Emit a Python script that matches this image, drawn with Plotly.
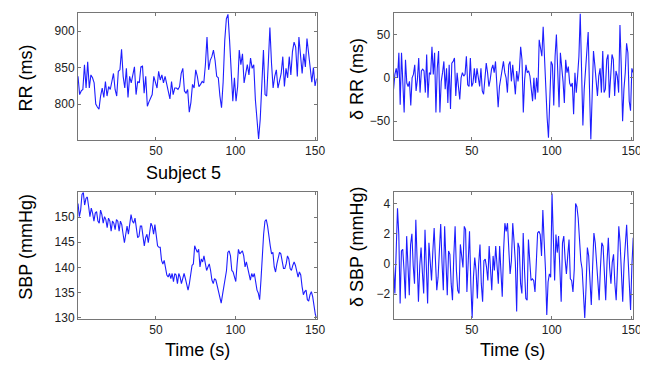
import numpy as np
import plotly.graph_objects as go

# ---------------- data ----------------
rr_ms = [838, 813, 818, 820, 854, 822, 858, 822, 840, 836, 829, 800, 796, 793, 811,
         822, 809, 831, 811, 824, 820, 833, 842, 820, 811, 845, 847, 875, 838, 822,
         849, 809, 838, 829, 838, 851, 813, 831, 829, 851, 852, 815, 838, 797, 803,
         809, 813, 838, 829, 822, 845, 833, 840, 829, 838, 829, 820, 807, 831, 813,
         822, 822, 820, 824, 842, 849, 818, 815, 820, 789, 802, 827,
         822, 847, 838, 824, 827, 831, 829, 854, 892, 847, 860, 865, 874, 860, 838,
         836, 811, 795, 830, 887, 917, 923, 887, 842, 804, 836, 804, 824, 874, 854,
         869, 829, 842, 854, 840, 863, 849, 854, 806, 784, 752, 779, 833, 874, 813,
         811, 856, 905, 856, 822, 838, 847, 822, 833, 842, 865, 824, 849, 836, 865,
         840, 872, 885, 878, 838, 892, 865, 842, 869, 851, 890, 870, 845, 830, 850,
         825, 835]

drr_ms = [-13, 4, 11, 0, 29, -31, 29, -2, -40, 21, -6, -10, -4, -32, 0, 4, 15, -15,
          -2, 23, -17, 8, 10, 8, -17, 27, -23, 6, 4, 36, 4, 29, -40, 11, 31, -40, -4,
          6, 19, -13, 11, -29, 15, -36, 17, 19, 23, -21, 6, -10, -25, 0, 6, 2, 4, 25,
          -8, -10, 23, -10, -6, 11, -6, 11, 0, -10, 11, -15, -19, 6, 17, 6, -10, -2,
          10, 15, 6, 19, -6, -34, -10, 0, 13, 19, 6, 0, -17, 15, 19, -4,
          15, 0, -19, 8, -4, 8, 36, 21, -40, -2, 15, 6, 8, 2, -17, -27, 0, -25, 0,
          -17, 44, 36, 25, 59, 21, -13, -46, -69, -17, 19, 15, -32, 25, 50, 8, -34,
          29, 13, -4, -29, 21, 6, 13, -6, -10, -6, -42, 6, -17, 2, 25, 74, 21, -55,
          -13, 13, 34, 53, -13, -71, -21, 31, 15, -4, -21, 2, 11, -17, 31, -17, -13,
          21, 27, -23, 2, 27, 21, -21, 8, 2, -17, 61, 13, -50, -13, 6, 40, 29, -27,
          -38, 11, 6]

sbp_mmhg = [152.7, 150.1, 151.4, 154.5, 154.9, 152.4, 153.7, 154.0, 152.1, 150.1,
            151.8, 150.8, 149.2, 150.8, 151.1, 149.2, 148.8, 151.4, 150.5, 148.8,
            150.1, 149.5, 147.9, 149.8, 149.2, 147.2, 149.2, 148.8, 147.5, 149.5,
            149.2, 147.2, 149.2, 148.5, 146.6, 144.9, 146.6, 148.2, 146.6, 148.8,
            150.5, 149.2, 148.8, 149.8, 147.9, 145.9, 146.2, 148.2, 148.2, 145.9,
            144.3, 145.9, 146.6, 144.9, 147.2, 148.8, 148.2, 146.6, 148.5, 146.2,
            144.3, 144.0, 144.0, 141.4, 140.7, 141.4, 139.4, 138.5, 138.1, 138.8,
            137.8, 138.8, 137.2, 138.8, 138.5, 136.8, 138.8, 138.1, 136.8, 138.1,
            138.8, 137.8, 136.2, 135.5, 136.8, 139.1, 140.4, 140.7, 144.3,
            143.6, 143.0, 143.6, 140.1, 141.7, 141.1, 142.3, 141.1, 139.4, 140.1,
            140.7, 139.4, 137.5, 136.8, 137.8, 137.5, 136.2, 134.9, 133.6, 132.9,
            134.6, 136.2, 137.5, 139.4, 143.0, 143.3, 142.3, 139.4, 139.1, 138.1,
            137.2, 140.7, 143.6, 142.7, 143.0, 143.3, 142.3, 140.1, 141.1, 139.8,
            138.5, 137.5, 138.8, 138.1, 138.8, 136.8, 135.5, 134.9, 133.6, 137.5,
            143.3, 146.6, 149.2, 149.5, 148.2, 145.9, 144.3, 142.7, 143.0, 140.1,
            139.1, 140.7, 142.0, 143.0, 142.7, 140.7, 139.8, 139.8, 140.7, 142.3,
            141.7, 139.8, 139.4, 140.4, 141.1, 140.4, 138.8, 138.1, 139.1, 138.5,
            136.2, 134.6, 135.2, 135.5, 133.6, 133.3, 134.6, 135.2, 134.2, 132.3,
            130.7, 130.0]

dsbp_mmhg = [-0.22, -1.95, 0.87, 3.69, 1.95, -2.61, 0.87, 0.98, -0.43, -2.28, 1.85,
             0.33, -2.06, 1.30, 2.00, -0.11, -1.30, 2.93, -0.22, -2.50, -0.11, 1.09,
             -0.54, -1.95, 2.28, 0.33, -2.61, 1.41, 0.11, -1.09, 0.87, 2.39, 0.22,
             -1.74, -0.87, 1.41, 2.65, 0.11, -1.74, 2.50, 0.22, -2.06, 0.87, 0.65,
             -1.30, -2.39, 0.54, 2.50, -0.43, -1.74, -1.95, 1.30, 0.54, -0.22, 2.50,
             2.28, -1.85, 0.54, 2.17, -1.30, -3.58, -0.87, 0.43, -0.43, -2.28, 0.00,
             1.30, -1.30, -2.50, 0.22, 0.33, -0.22, -1.09, 1.19, 0.00, -1.74, 0.54,
             -0.43, 1.19, 0.22, -1.30, 1.19, -0.43, -2.17, 0.87, 2.71, 2.17, 2.71,
             0.98, -0.65, 0.22, 2.71, 1.52, 0.11,
             -3.15, 1.41, 1.09, -1.30, -1.95, 2.06, -0.43, -2.28, -2.39, 1.63, 0.22,
             -1.09, -0.98, -1.09, -1.85, 0.00, 2.06, 2.17, 1.95, 0.54, 3.58, 1.52,
             -0.33, -3.37, -1.19, -0.65, -0.87, 4.67, 1.09, -1.09, 1.95, 0.76, 1.85,
             -0.22, -2.50, 1.41, 1.85, 0.33, -0.65, 0.54, 1.63, -0.98, -1.09, -1.85,
             -0.33, 4.02, 3.80, 3.04, 1.41, 0.22, -0.33, -1.95, -3.58, -1.52, 1.09,
             0.54, -1.09, -2.71, -0.22, 2.06, 1.41, 0.00, -1.30, -2.39, -0.22, 1.41,
             1.19, -1.09, -2.39, 0.11, 1.74, -0.22, -1.30, 0.11, 0.65, -1.30, -2.39,
             -0.22, 2.50, 1.41, -0.65, -2.50, 0.00, 1.74, 2.61, 0.54, -1.85, -3.04,
             -0.11, 1.74]

time_ticks = [50, 100, 150]
rr_ticks = [800, 850, 900]
drr_ticks = [-50, 0, 50]
sbp_ticks = [130, 135, 140, 145, 150]
dsbp_ticks = [-2, 0, 2, 4]

# ---------------- figure ----------------
W, H = 648, 366
BLUE = "rgb(30,30,255)"
FONT = "Liberation Sans, Arial, Helvetica, sans-serif"


def sample_times(values):
    # samples span the recording from t = 1 s to t = 151 s
    return np.linspace(1, 151, len(values))


def xdom(a, b):
    return [a / W, b / W]


def ydom(top, bottom):
    return [1 - bottom / H, 1 - top / H]


fig = go.Figure()
series = [(rr_ms, "x", "y"), (drr_ms, "x2", "y2"),
          (sbp_mmhg, "x3", "y3"), (dsbp_mmhg, "x4", "y4")]
for vals, xa, ya in series:
    fig.add_trace(go.Scatter(x=sample_times(vals), y=vals, xaxis=xa, yaxis=ya,
                             mode="lines", line=dict(color=BLUE, width=1.1),
                             showlegend=False, hoverinfo="skip"))

common = dict(showline=True, linecolor="#767676", linewidth=1, mirror="ticks",
              ticks="inside", ticklen=3, tickcolor="#767676", showgrid=False,
              zeroline=False, tickfont=dict(family=FONT, size=12, color="#222"))
xcommon = dict(common)
ycommon = dict(common, ticksuffix="\u00a0")

left = xdom(71, 313)
right = xdom(391, 634)
top = ydom(5, 134)
bottom = ydom(187, 316)

fig.update_layout(
    width=W, height=H, autosize=False,
    margin=dict(l=0, r=0, t=0, b=0),
    paper_bgcolor="white", plot_bgcolor="white",
    xaxis=dict(domain=left, anchor="y", range=[1, 151], tickvals=time_ticks, **xcommon),
    yaxis=dict(domain=top, anchor="x", range=[751, 925], tickvals=rr_ticks, **ycommon),
    xaxis2=dict(domain=right, anchor="y2", range=[1, 151], tickvals=time_ticks, **xcommon),
    yaxis2=dict(domain=top, anchor="x2", range=[-71.5, 75], tickvals=drr_ticks, **ycommon),
    xaxis3=dict(domain=left, anchor="y3", range=[1, 151], tickvals=time_ticks, **xcommon),
    yaxis3=dict(domain=bottom, anchor="x3", range=[129.8, 155], tickvals=sbp_ticks, **ycommon),
    xaxis4=dict(domain=right, anchor="y4", range=[1, 151], tickvals=time_ticks, **xcommon),
    yaxis4=dict(domain=bottom, anchor="x4", range=[-3.63, 4.78], tickvals=dsbp_ticks, **ycommon),
)


def label(text, px, py, angle=0, size=18):
    fig.add_annotation(text=text, x=px / W, y=1 - py / H, xref="paper", yref="paper",
                       xanchor="center", yanchor="middle", showarrow=False,
                       textangle=angle, font=dict(family=FONT, size=size, color="black"))


label("RR (ms)", 18, 71, -90)
label("δ RR (ms)", 354, 72, -90)
label("SBP (mmHg)", 18, 243, -90)
label("δ SBP (mmHg)", 354, 243, -90)
label("Subject 5", 178, 168)
label("Time (s)", 192, 348)
label("Time (s)", 512, 348)

fig.write_html("out.html")
